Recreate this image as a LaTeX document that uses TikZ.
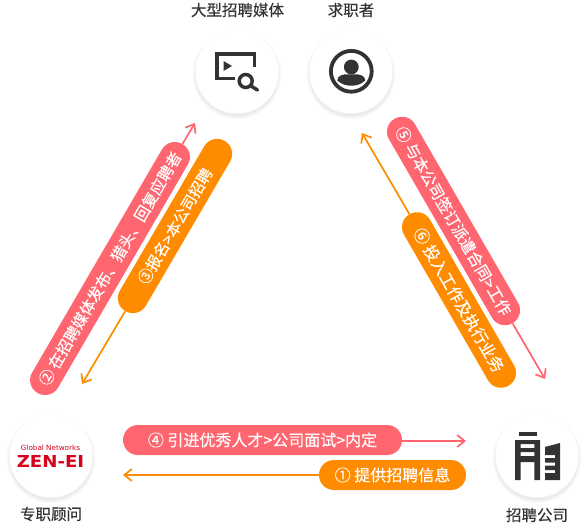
\documentclass[tikz,border=0pt]{standalone}
\usepackage{fontspec}
\usepackage{xcolor}
\usepackage{tikz}
\usetikzlibrary{arrows.meta,positioning}
\setmainfont[RawFeature={embolden=0.3}]{Noto Sans CJK SC}
\newfontfamily\logofont{DejaVu Sans}
\definecolor{pillred}{HTML}{FF6670}
\definecolor{pillorange}{HTML}{FF8C00}
\definecolor{icondark}{HTML}{333333}
\definecolor{logored}{HTML}{D9001B}

\tikzset{
  pill/.style={rounded corners=14.9pt, minimum height=30pt, inner sep=0pt, text=white,
    font=\fontsize{16}{18}\selectfont},
  pillR/.style={pill, fill=pillred},
  pillO/.style={pill, fill=pillorange},
  linkR/.style={draw=pillred, line width=1.7pt, -{Straight Barb[length=7.5pt,width=12pt]}},
  linkO/.style={draw=pillorange, line width=1.7pt, -{Straight Barb[length=7.5pt,width=12pt]}},
  role/.style={circle, fill=white, minimum size=83pt, inner sep=0pt},
  rolelabel/.style={text=icondark, inner sep=0pt, font=\fontsize{15.5}{17}\selectfont}
}
% soft shadow under a round badge
\newcommand{\softshadow}[1]{%
  \foreach \r in {41.5,42.5,43.5,44.5}
    \fill[black, opacity=0.018] (#1)+(0,2.5) circle (\r pt);
}

\begin{document}
\begin{tikzpicture}[x=1pt, y=-1pt, >=Stealth]
\useasboundingbox (0,0) rectangle (588,525);

% ── Round badges ──────────────────────────────────────────────
\coordinate (cMedia) at (237,72);
\coordinate (cSeeker) at (351,72);
\coordinate (cAgent) at (51,456);
\coordinate (cClient) at (537,456);
\softshadow{cMedia}
\softshadow{cSeeker}
\softshadow{cAgent}
\softshadow{cClient}
\node[role] (media) at (cMedia) {};
\node[role] (seeker) at (cSeeker) {};
\node[role] (agent) at (cAgent) {};
\node[role] (client) at (cClient) {};

% ── Labels ────────────────────────────────────────────────────
\node[rolelabel] (mediaText) at (237.5,10) {大型招聘媒体};
\node[rolelabel] (seekerText) at (351,10) {求职者};
\node[rolelabel] (agentText) at (51,514) {专职顾问};
\node[rolelabel] (clientText) at (537,515) {招聘公司};

% ── Arrow ends ────────────────────────────────────────────────
\coordinate (tipTwo) at (195,123);
\coordinate (tipThree) at (82,384);
\coordinate (tipFive) at (545,379);
\coordinate (tipSix) at (362,133);
\coordinate (tipFour) at (466,441);
\coordinate (tipOne) at (123,475);

% ── Pills ─────────────────────────────────────────────────────
\node[pillR, minimum width=288pt, rotate=59.8, font=\fontsize{15.5}{18}\selectfont] (stepTwo) at (110,268.5)
  {② 在招聘媒体发布、猎头、回复应聘者};
\node[pillO, minimum width=197pt, rotate=59.7, font=\fontsize{15.3}{18}\selectfont] (stepThree) at (175,226)
  {③报名>本公司招聘};
\node[pillR, minimum width=236pt, rotate=-60, font=\fontsize{15.6}{18}\selectfont] (stepFive) at (453.5,221)
  {⑤ 与本公司签订派遣合同>工作};
\node[pillO, minimum width=198pt, rotate=-60] (stepSix) at (459,300)
  {⑥ 投入工作及执行业务};
\node[pillR, minimum width=279pt] (stepFour) at (262.5,440)
  {④ 引进优秀人才>公司面试>内定};
\node[pillO, minimum width=147pt] (stepOne) at (392.5,475)
  {① 提供招聘信息};

% ── Connectors ────────────────────────────────────────────────
\draw[linkR] (stepTwo.east) -- (tipTwo);
\draw[linkO] (stepThree.west) -- (tipThree);
\draw[linkR] (stepFive.east) -- (tipFive);
\draw[linkO] (stepSix.west) -- (tipSix);
\draw[linkR] (stepFour.east |- tipFour) -- (tipFour);
\draw[linkO] (stepOne.west) -- (tipOne);

% ── Media icon ────────────────────────────────────────────────
\draw[icondark, line width=3.5pt] (235,78.25) -- (216.75,78.25) -- (216.75,53.75) -- (254.25,53.75) -- (254.25,67);
\fill[icondark] (223.5,61) -- (232,66) -- (223.5,71) -- cycle;
\draw[icondark, line width=3.5pt] (245.7,81) circle (6.5pt);
\draw[icondark, line width=3.5pt, line cap=round] (251,86) -- (257.5,90);

% ── Seeker icon ───────────────────────────────────────────────
\draw[icondark, line width=3.8pt] (351.3,71.3) circle (20.4pt);
\fill[icondark] (351.3,67) circle (7.4pt);
\fill[icondark] (337.3,80.5) .. controls (337.3,75) and (344,74.3) .. (347,74.3)
  -- (355.5,74.3) .. controls (358.5,74.3) and (365.3,75) .. (365.3,80.5)
  .. controls (361,84.5) and (356,85.7) .. (351.3,85.7)
  .. controls (346.5,85.7) and (341.5,84.5) .. (337.3,80.5) -- cycle;

% ── Client icon ───────────────────────────────────────────────
\fill[icondark] (519,432) rectangle (537,436);
\fill[icondark, even odd rule] (515,480) -- (515,440) -- (540,440) -- (540,480) -- (534.3,480) -- (534.3,462) -- (520.7,462) -- (520.7,480) -- cycle
  (520.7,444) rectangle (534.3,448) (520.7,452) rectangle (534.3,456);
\fill[icondark] (545,447) -- (560,443) -- (560,480) -- (545,480) -- (545,473) -- (555,473) -- (555,470) -- (545,470) -- (545,465.5) -- (555,465.5) -- (555,462.5) -- (545,462.5) -- (545,458) -- (555,458) -- (555,455) -- (545,455) -- cycle;

% ── Logo ──────────────────────────────────────────────────────
\node[logored, inner sep=0pt, font=\logofont\fontsize{7.2}{8}\selectfont] (logoTop) at (50.5,448) {Global Networks};
\node[logored, inner sep=0pt, font=\logofont\bfseries\fontsize{16.5}{18}\selectfont] (logoMain) at (50.5,461) {\scalebox{1.1}[1]{ZEN-EI}};
\end{tikzpicture}
\end{document}
